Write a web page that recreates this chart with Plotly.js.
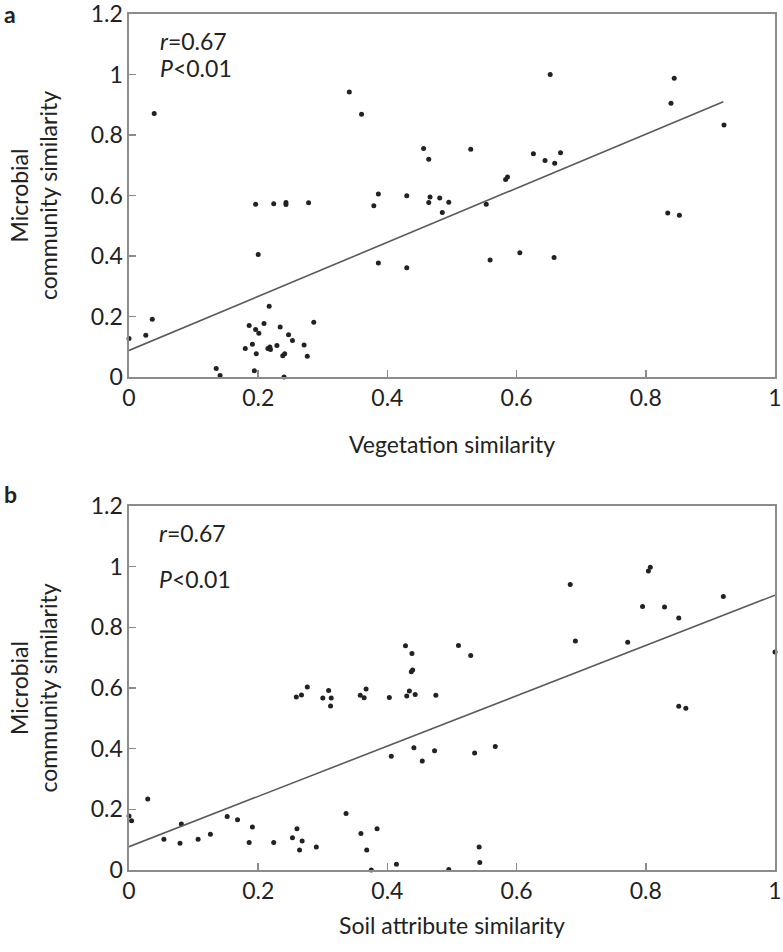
<!DOCTYPE html>
<html>
<head>
<meta charset="utf-8">
<script src="https://cdn.plot.ly/plotly-3.0.1.min.js"></script>
<style>html,body{margin:0;padding:0;background:#fff;}#chart{width:783px;height:952px;}</style>
</head>
<body>
<div id="chart"></div>
<script>
// Panel a: vegetation similarity vs microbial community similarity
const vegX = [0,0.026,0.036,0.039,0.135,0.141,0.180,0.186,0.191,0.194,0.196,0.196,0.197,0.200,0.201,0.209,0.215,0.217,0.218,0.219,0.224,0.229,0.234,0.238,0.240,0.241,0.243,0.243,0.247,0.253,0.271,0.276,0.278,0.286,0.341,0.360,0.379,0.386,0.386,0.430,0.430,0.456,0.464,0.464,0.466,0.481,0.485,0.495,0.529,0.553,0.559,0.583,0.586,0.605,0.626,0.644,0.652,0.658,0.659,0.668,0.834,0.839,0.844,0.852,0.921];
const vegY = [0.127,0.138,0.191,0.871,0.028,0.005,0.094,0.170,0.108,0.021,0.157,0.571,0.077,0.405,0.145,0.177,0.094,0.234,0.099,0.091,0.573,0.104,0.165,0.070,0.000,0.077,0.577,0.570,0.140,0.121,0.106,0.069,0.576,0.181,0.942,0.869,0.566,0.605,0.377,0.599,0.361,0.755,0.720,0.577,0.595,0.592,0.544,0.578,0.753,0.571,0.387,0.653,0.661,0.411,0.738,0.716,1.000,0.395,0.707,0.741,0.542,0.905,0.988,0.535,0.833];
const vegFitX = [0, 0.92];
const vegFitY = [0.088, 0.910];

// Panel b: soil attribute similarity vs microbial community similarity
const soilX = [0,0.004,0.029,0.054,0.079,0.081,0.107,0.126,0.152,0.168,0.186,0.191,0.224,0.253,0.259,0.260,0.264,0.267,0.268,0.276,0.290,0.300,0.309,0.312,0.313,0.336,0.358,0.359,0.364,0.367,0.368,0.375,0.384,0.403,0.406,0.414,0.428,0.430,0.434,0.437,0.438,0.439,0.441,0.443,0.454,0.473,0.475,0.495,0.510,0.529,0.535,0.542,0.543,0.567,0.683,0.691,0.772,0.795,0.804,0.807,0.829,0.851,0.851,0.862,0.920,1.0];
const soilY = [0.178,0.162,0.234,0.101,0.088,0.152,0.101,0.118,0.176,0.166,0.091,0.142,0.091,0.106,0.570,0.136,0.066,0.577,0.096,0.603,0.076,0.567,0.592,0.541,0.567,0.186,0.576,0.120,0.568,0.597,0.066,0.000,0.136,0.569,0.375,0.019,0.739,0.574,0.590,0.654,0.714,0.659,0.403,0.579,0.359,0.393,0.576,0.002,0.740,0.707,0.386,0.076,0.025,0.407,0.941,0.755,0.751,0.869,0.986,0.998,0.867,0.831,0.540,0.533,0.902,0.719];
const soilFitX = [0, 1];
const soilFitY = [0.077, 0.906];

const yTicks = [0, 0.2, 0.4, 0.6, 0.8, 1, 1.2];
const yTickText = ['0', '0.2', '0.4', '0.6', '0.8', '1', '1.2'];
const xTicks = [0, 0.2, 0.4, 0.6, 0.8, 1];
const xTickText = ['0', '0.2', '0.4', '0.6', '0.8', '1'];

const FONT = 'Lato, "Open Sans", sans-serif';
const marker = {color: '#222', size: 5};
const fitLine = {color: '#5a5a5a', width: 1.6};

const traces = [
  {x: vegX, y: vegY, type: 'scatter', mode: 'markers', marker: marker, xaxis: 'x', yaxis: 'y', cliponaxis: false},
  {x: vegFitX, y: vegFitY, type: 'scatter', mode: 'lines', line: fitLine, xaxis: 'x', yaxis: 'y'},
  {x: soilX, y: soilY, type: 'scatter', mode: 'markers', marker: marker, xaxis: 'x2', yaxis: 'y2', cliponaxis: false},
  {x: soilFitX, y: soilFitY, type: 'scatter', mode: 'lines', line: fitLine, xaxis: 'x2', yaxis: 'y2'}
];

function xAxis(title, anchor, standoff) {
  return {
    range: [0, 1], tickvals: xTicks, ticktext: xTickText, anchor: anchor,
    showgrid: false, zeroline: false, showline: true, mirror: true,
    linecolor: '#8c8c8c', linewidth: 1.6, ticks: 'inside', ticklen: 7, tickcolor: '#8c8c8c', tickwidth: 1.5,
    tickfont: {family: FONT, size: 23, color: '#222'},
    ticklabeloverflow: 'allow',
    title: {text: title, font: {family: FONT, size: 23, color: '#222'}, standoff: standoff},
    fixedrange: true
  };
}
function yAxis(domain, anchor) {
  return {
    range: [0, 1.2], tickvals: yTicks, ticktext: yTickText, domain: domain, anchor: anchor,
    showgrid: false, zeroline: false, showline: true, mirror: true,
    linecolor: '#8c8c8c', linewidth: 1.6, ticks: 'inside', ticklen: 7, tickcolor: '#8c8c8c', tickwidth: 1.5,
    tickfont: {family: FONT, size: 23, color: '#222'},
    ticklabeloverflow: 'allow',
    title: {text: 'Microbial<br>community similarity', font: {family: FONT, size: 23, color: '#222'}, standoff: 26},
    fixedrange: true
  };
}

const ann = (text, x, y, xref, yref, size, extra) => Object.assign({
  text: text, x: x, y: y, xref: xref, yref: yref, showarrow: false,
  xanchor: 'left', yanchor: 'middle', font: {family: FONT, size: size, color: '#222'}
}, extra || {});

const layout = {
  width: 783, height: 952,
  margin: {l: 129, r: 8, t: 14, b: 82},
  paper_bgcolor: '#fff', plot_bgcolor: '#fff',
  showlegend: false,
  xaxis: xAxis('Vegetation similarity', 'y', 26),
  yaxis: yAxis([0.5759, 1], 'x'),
  xaxis2: xAxis('Soil attribute similarity', 'y2', 14),
  yaxis2: yAxis([0, 0.4252], 'x2'),
  annotations: [
    ann('<b>a</b>', -0.197, 1.0, 'paper', 'paper', 23),
    ann('<b>b</b>', -0.197, 0.4392, 'paper', 'paper', 23),
    ann('<i>r</i>=0.67', 0.045, 1.11, 'x', 'y', 23),
    ann('<i>P</i><0.01', 0.045, 1.02, 'x', 'y', 23),
    ann('<i>r</i>=0.67', 0.043, 1.11, 'x2', 'y2', 23),
    ann('<i>P</i><0.01', 0.043, 0.96, 'x2', 'y2', 23)
  ]
};

Plotly.newPlot('chart', traces, layout, {staticPlot: true, displayModeBar: false});
</script>
</body>
</html>
